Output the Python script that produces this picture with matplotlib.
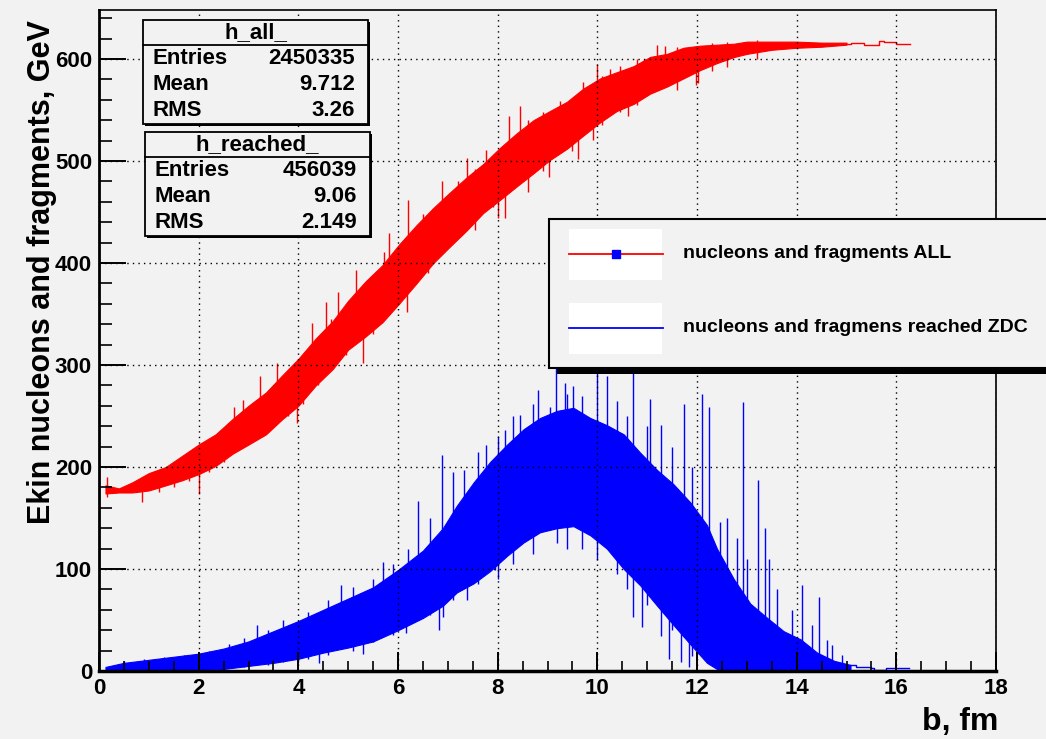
"""Kinetic energy of nucleons and fragments vs impact parameter b (ROOT-style canvas)."""
import matplotlib

matplotlib.use("Agg")
import matplotlib.pyplot as plt  # noqa: E402
from matplotlib.lines import Line2D  # noqa: E402
from matplotlib.patches import Rectangle  # noqa: E402
from matplotlib.ticker import MultipleLocator  # noqa: E402

plt.rcParams["font.family"] = ["Liberation Sans", "DejaVu Sans"]
plt.rcParams["font.weight"] = "bold"

BG = "#f2f2f2"
RED = "#ff0000"
BLUE = "#0000ff"

# h_all_ : dense band (low / high) of the per-bin sum, GeV
red_b = [0.13, 0.4, 0.67, 1.0, 1.34, 1.67, 2.0, 2.34, 2.68, 3.0, 3.35, 3.68,
         4.0, 4.35, 4.69, 5.0, 5.35, 5.69, 6.02, 6.37, 6.71, 7.04, 7.38, 7.71,
         8.05, 8.38, 8.72, 9.05, 9.39, 9.72, 10.06, 10.39, 10.73, 11.06, 11.4,
         11.73, 12.06, 12.4, 12.75, 13.0, 13.5, 14.0, 14.5, 15.0]
red_lo = [174, 175, 175, 177, 182, 187, 193, 201, 213, 222, 232, 247,
          260, 280, 296, 315, 328, 342, 360, 380, 400, 416, 432, 449,
          462, 475, 488, 501, 512, 525, 538, 549, 556, 566, 573,
          581, 589, 596, 602, 605, 609, 611, 612, 614]
red_hi = [182, 179, 185, 194, 200, 211, 222, 232, 247, 260, 273, 290,
          306, 326, 343, 363, 382, 398, 418, 437, 454, 469, 484, 497,
          513, 527, 540, 549, 558, 571, 581, 587, 593, 602, 605,
          611, 613, 614, 615, 617, 617, 617, 616, 616]
# single bins sticking out of the band
red_spike_b = [0.16, 0.87, 1.2, 1.5, 1.8, 2.0, 2.2, 2.5, 2.71, 2.88, 3.1,
               3.23, 3.45, 3.58, 3.8, 3.98, 4.1, 4.28, 4.4, 4.55, 4.65, 4.79,
               4.95, 5.15, 5.29, 5.5, 5.72, 5.82, 6.19, 6.2, 6.5, 6.6, 6.89,
               7.2, 7.38, 7.55, 7.77, 7.9, 8.0, 8.14, 8.22, 8.44, 8.6, 8.9,
               9.03, 9.25, 9.5, 9.62, 9.71, 9.92, 9.99, 10.1, 10.26, 10.45,
               10.62, 10.8, 10.93, 11.19, 11.36, 11.6, 11.98, 12.02, 12.3,
               12.6, 13.2]
red_spike_lo = [171, 166, 175, 180, 186, 174, 195, 205, 230, 240, 228,
                255, 238, 270, 250, 243, 262, 310, 280, 325, 296, 330,
                310, 345, 302, 330, 380, 385, 352, 420, 388, 390, 440,
                425, 460, 432, 470, 455, 444, 444, 500, 505, 470, 490,
                484, 540, 510, 502, 555, 521, 570, 535, 575, 548,
                544, 555, 590, 595, 595, 570, 574, 576, 588,
                592, 600]
red_spike_hi = [190, 185, 197, 203, 212, 205, 222, 236, 259, 266, 262,
                289, 275, 302, 292, 280, 305, 341, 325, 362, 345, 372,
                360, 393, 340, 385, 411, 429, 390, 462, 448, 445, 480,
                480, 503, 492, 511, 505, 480, 480, 544, 554, 540, 548,
                520, 559, 560, 535, 577, 550, 595, 583, 590, 593,
                570, 600, 600, 614, 613, 612, 600, 600, 616,
                617, 619]
# sparse tail, drawn bin by bin
red_tail_b = [15.0, 15.1, 15.35, 15.6, 15.65, 15.75, 15.95, 16.0, 16.27]
red_tail_e = [615, 616, 614, 614, 618, 617, 617, 615, 615]

# h_reached_ : same for particles reaching the ZDC
blue_b = [0.13, 0.5, 1.0, 1.5, 2.0, 2.5, 3.0, 3.5, 4.0, 4.5, 5.0, 5.5, 6.0,
          6.5, 6.9, 7.18, 7.52, 7.85, 8.19, 8.52, 8.85, 9.19, 9.52, 9.86,
          10.19, 10.53, 10.86, 11.2, 11.53, 11.87, 12.2, 12.4, 12.74, 13.07,
          13.41, 13.74, 14.08, 14.41, 14.75, 15.08]
blue_lo = [0, 0, 0, 0, 1, 2, 5, 8, 12, 18, 23, 29, 40,
           52, 64, 77, 86, 98, 113, 126, 136, 140, 142, 133,
           120, 100, 84, 64, 45, 26, 8, 2, 0, 0,
           0, 0, 0, 0, 0, 0]
blue_hi = [4, 8, 11, 14, 17, 22, 29, 39, 49, 60, 71, 82, 99,
           118, 140, 162, 185, 205, 222, 237, 248, 255, 258, 248,
           241, 232, 214, 197, 183, 165, 143, 120, 90, 66,
           52, 39, 31, 18, 10, 6]
blue_spike_b = [0.5, 0.9, 1.3, 1.7, 2.2, 2.6, 2.9, 3.17, 3.4, 3.7, 4.0, 4.2,
                4.42, 4.6, 4.85, 5.1, 5.29, 5.5, 5.69, 5.89, 5.9, 6.16, 6.2,
                6.41, 6.65, 6.83, 6.88, 6.9, 7.1, 7.32, 7.38, 7.6, 7.76, 7.95,
                8.0, 8.14, 8.3, 8.44, 8.7, 8.81, 9.06, 9.18, 9.2, 9.35, 9.4,
                9.52, 9.7, 9.99, 9.99, 10.19, 10.4, 10.6, 10.71, 10.71, 10.9,
                11.0, 11.05, 11.28, 11.28, 11.43, 11.5, 11.73, 11.67, 11.84,
                11.9, 12.1, 12.24, 12.47, 12.6, 12.8, 12.92, 13.0, 13.23,
                13.37, 13.44, 13.6, 13.9, 14.11, 14.3, 14.44, 14.6, 14.71,
                14.91]
blue_spike_lo = [0, 0, 0, 0, 2, 3, 4, 25, 6, 9, 9, 12,
                 8, 16, 55, 20, 17, 28, 75, 43, 35, 37, 45,
                 100, 55, 40, 120, 53, 70, 170, 70, 85, 180, 99,
                 90, 200, 105, 210, 115, 220, 230, 240, 125, 240, 120,
                 243, 120, 109, 230, 226, 95, 80, 53, 210, 43,
                 65, 190, 34, 180, 12, 40, 165, 9, 4,
                 15, 140, 120, 110, 0, 0, 70, 0, 50,
                 45, 40, 0, 0, 25, 0, 15, 0, 8,
                 4]
blue_spike_hi = [10, 12, 14, 16, 20, 26, 32, 45, 40, 50, 20, 58,
                 25, 70, 84, 82, 35, 90, 107, 60, 105, 55, 120,
                 167, 150, 75, 212, 80, 195, 197, 95, 215, 222, 115,
                 230, 236, 250, 251, 262, 275, 259, 297, 155, 282, 272,
                 279, 270, 150, 293, 289, 265, 250, 115, 293, 99,
                 240, 267, 79, 241, 60, 220, 262, 50, 40,
                 200, 272, 259, 146, 150, 130, 264, 110, 187,
                 140, 110, 80, 60, 84, 45, 73, 30, 25,
                 16]
blue_tail_b = [15.08, 15.2, 15.5, 15.55, 15.75, 15.8, 16.25]
blue_tail_e = [6, 4, 3, 1, 1, 3, 3]

stat_titles = ["h_all_", "h_reached_"]
stat_names = ["Entries", "Mean", "RMS"]
stat_values = [["2450335", "9.712", "3.26"], ["456039", "9.06", "2.149"]]
legend_labels = ["nucleons and fragments ALL",
                 "nucleons and fragmens reached ZDC"]

W, H = 1046, 739


def fx(x):
    return x / W


def fy(y):
    return 1 - y / H


def rect(x0, y0, x1, y1, **kw):
    fig.add_artist(Rectangle((fx(x0), fy(y1)), fx(x1 - x0), (y1 - y0) / H,
                             transform=fig.transFigure, **kw))


def hline(x0, x1, y, **kw):
    fig.add_artist(Line2D([fx(x0), fx(x1)], [fy(y), fy(y)],
                          transform=fig.transFigure, **kw))


fig = plt.figure(figsize=(W / 100, H / 100), dpi=100, facecolor=BG)
ax = fig.add_axes([fx(99), fy(671), fx(996 - 99), (671 - 10) / H], facecolor=BG)

for b, lo, hi, sb, slo, shi, tb, te, c in (
        (red_b, red_lo, red_hi, red_spike_b, red_spike_lo, red_spike_hi,
         red_tail_b, red_tail_e, RED),
        (blue_b, blue_lo, blue_hi, blue_spike_b, blue_spike_lo, blue_spike_hi,
         blue_tail_b, blue_tail_e, BLUE)):
    ax.fill_between(b, lo, hi, color=c, lw=0.8)
    ax.vlines(sb, slo, shi, color=c, lw=1.0)
    ax.step(tb, te, where="post", color=c, lw=1.0)

ax.set_xlim(0, 18)
ax.set_ylim(0, 648)
ax.xaxis.set_major_locator(MultipleLocator(2))
ax.xaxis.set_minor_locator(MultipleLocator(0.5))
ax.yaxis.set_major_locator(MultipleLocator(100))
ax.yaxis.set_minor_locator(MultipleLocator(20))
ax.tick_params(axis="x", which="major", direction="in", length=13.7, width=1.4,
               labelsize=16, pad=5)
ax.tick_params(axis="x", which="minor", direction="in", length=7.2, width=1.2)
ax.tick_params(axis="y", which="major", direction="in", length=19.4, width=1.4,
               labelsize=16, pad=5)
ax.tick_params(axis="y", which="minor", direction="in", length=9.4, width=1.2)
ax.tick_params(top=False, right=False, which="both")
ax.set_axisbelow(False)
ax.grid(True, which="major", color="black", linestyle=(0, (1, 3)), lw=1.0)
ax.spines["left"].set_linewidth(2.0)
ax.spines["bottom"].set_linewidth(2.5)
ax.spines["top"].set_linewidth(1.2)
ax.spines["right"].set_linewidth(1.2)

fig.text(fx(42), fy(20), "Ekin nucleons and fragments, GeV", rotation=90,
         ha="center", va="top", fontsize=22)
fig.text(fx(998), fy(722), "b, fm", ha="right", va="center", fontsize=23)

# stat boxes
for k, (top, left) in enumerate(((20, 143), (132, 145))):
    right, bottom = left + 225, top + 104
    rect(left + 2, top + 2, right + 2, bottom + 2, facecolor="black", zorder=1)
    rect(left, top, right, bottom, facecolor=BG, edgecolor="black", lw=1.3,
         zorder=1.1)
    hline(left, right, top + 25, color="black", lw=1.3, zorder=1.2)
    fig.text(fx((left + right) / 2), fy(top + 13), stat_titles[k],
             ha="center", va="center", fontsize=16)
    for i, name in enumerate(stat_names):
        y = top + 38 + 26 * i
        fig.text(fx(left + 10), fy(y), name, ha="left", va="center", fontsize=16)
        fig.text(fx(right - 13), fy(y), stat_values[k][i], ha="right",
                 va="center", fontsize=16)

# legend
rect(557, 225, 1060, 374, facecolor="black", zorder=1)
rect(549, 219, 1060, 368, facecolor=BG, edgecolor="black", lw=1.5, zorder=1.1)
for i, (c, label) in enumerate(zip((RED, BLUE), legend_labels)):
    yc = 254 + 74 * i
    rect(569, yc - 25, 662, yc + 26, facecolor="white", lw=0, zorder=1.2)
    hline(569, 663, yc, color=c, lw=1.3, zorder=1.3)
    fig.text(fx(683), fy(yc), label, ha="left", va="center", fontsize=14)
fig.add_artist(Line2D([fx(616)], [fy(254)], marker="s", color=BLUE,
                      markersize=6, transform=fig.transFigure, zorder=1.4))

fig.savefig("out.png", dpi=100, facecolor=BG)
